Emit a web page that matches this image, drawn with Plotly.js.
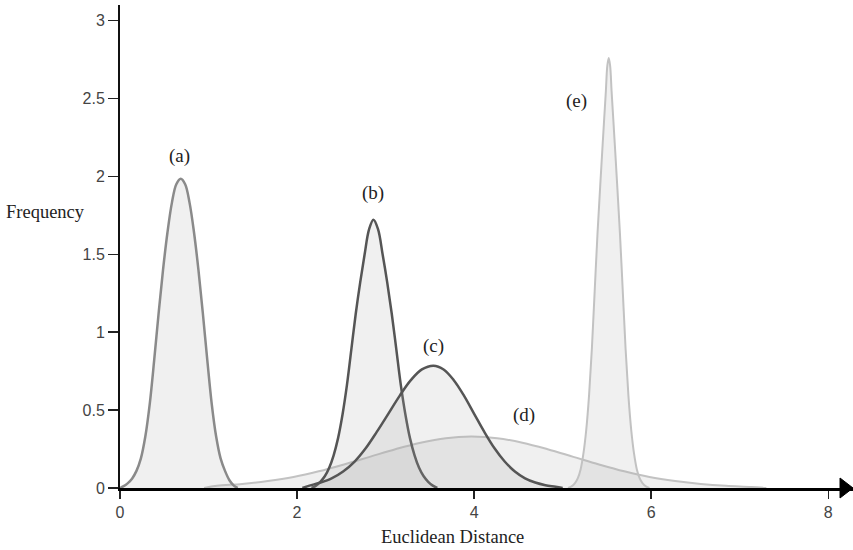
<!DOCTYPE html>
<html>
<head>
<meta charset="utf-8">
<script src="https://cdn.plot.ly/plotly-3.0.1.min.js"></script>
<style>html,body{margin:0;padding:0;background:#fff;}#chart{width:853px;height:550px;}</style>
</head>
<body>
<div id="chart"></div>
<script>
// Curve (a)
const xA = [0, 0.036, 0.086, 0.136, 0.186, 0.236, 0.286, 0.336, 0.386, 0.436, 0.486, 0.536, 0.586, 0.636, 0.686, 0.736, 0.786, 0.836, 0.886, 0.936, 0.986, 1.036, 1.086, 1.136, 1.186, 1.236, 1.286, 1.33];
const yA = [0, 0.01, 0.03, 0.06, 0.11, 0.19, 0.33, 0.54, 0.82, 1.12, 1.40, 1.64, 1.83, 1.95, 1.985, 1.95, 1.83, 1.64, 1.40, 1.12, 0.82, 0.54, 0.33, 0.19, 0.11, 0.05, 0.015, 0];
// Curve (b)
const xB = [2.163, 2.213, 2.263, 2.313, 2.363, 2.413, 2.463, 2.513, 2.563, 2.613, 2.663, 2.713, 2.763, 2.813, 2.863, 2.915, 2.966, 3.018, 3.069, 3.121, 3.172, 3.224, 3.275, 3.327, 3.378, 3.43, 3.481, 3.533, 3.584];
const yB = [0, 0.015, 0.04, 0.075, 0.13, 0.21, 0.32, 0.47, 0.66, 0.89, 1.12, 1.32, 1.50, 1.66, 1.722, 1.66, 1.50, 1.32, 1.12, 0.89, 0.66, 0.47, 0.32, 0.21, 0.13, 0.075, 0.04, 0.015, 0];
// Curve (c)
const xC = [2.06, 2.14, 2.265, 2.39, 2.52, 2.65, 2.775, 2.90, 3.03, 3.16, 3.285, 3.41, 3.54, 3.655, 3.77, 3.885, 4.00, 4.115, 4.23, 4.345, 4.46, 4.575, 4.69, 4.805, 4.92, 5.0];
const yC = [0, 0.015, 0.035, 0.062, 0.106, 0.17, 0.255, 0.36, 0.476, 0.593, 0.692, 0.761, 0.785, 0.761, 0.692, 0.593, 0.476, 0.36, 0.255, 0.17, 0.106, 0.062, 0.035, 0.018, 0.008, 0];
// Curve (d)
const xD = [0.95, 1.095, 1.38, 1.67, 1.96, 2.245, 2.53, 2.82, 3.11, 3.395, 3.68, 3.97, 4.26, 4.545, 4.83, 5.12, 5.41, 5.695, 5.98, 6.27, 6.56, 6.845, 7.13, 7.3];
const yD = [0, 0.014, 0.026, 0.045, 0.071, 0.107, 0.151, 0.20, 0.249, 0.291, 0.32, 0.33, 0.32, 0.291, 0.249, 0.20, 0.151, 0.107, 0.071, 0.045, 0.026, 0.014, 0.007, 0];
// Curve (e)
const xE = [5.06, 5.10, 5.139, 5.171, 5.203, 5.234, 5.266, 5.298, 5.33, 5.361, 5.393, 5.425, 5.456, 5.488, 5.504, 5.52, 5.536, 5.552, 5.584, 5.615, 5.647, 5.679, 5.71, 5.742, 5.774, 5.806, 5.837, 5.869, 5.901, 5.94, 5.98];
const yE = [0, 0.01, 0.031, 0.063, 0.121, 0.22, 0.373, 0.596, 0.897, 1.26, 1.63, 1.95, 2.25, 2.55, 2.71, 2.76, 2.71, 2.55, 2.25, 1.95, 1.63, 1.26, 0.897, 0.596, 0.373, 0.22, 0.121, 0.063, 0.031, 0.01, 0];

const curveLabels = ['(a)', '(b)', '(c)', '(d)', '(e)'];
const labelX = [0.667, 2.859, 3.537, 4.565, 5.153];
const labelY = [2.131, 1.891, 0.913, 0.468, 2.487];

const xTicks = [0, 2, 4, 6, 8];
const yTicks = [0, 0.5, 1, 1.5, 2, 2.5, 3];
const yTickText = ['0', '0.5', '1', '1.5', '2', '2.5', '3'];

const xTitle = 'Euclidean Distance';
const yTitle = 'Frequency';

const fillCol = 'rgba(170,170,170,0.18)';
function curve(x, y, color, width) {
  return {
    x: x, y: y, type: 'scatter', mode: 'lines',
    line: {color: color, width: width, shape: 'spline', smoothing: 1},
    fill: 'tozeroy', fillcolor: fillCol, hoverinfo: 'skip'
  };
}

const data = [
  curve(xD, yD, '#c2c2c2', 2),
  curve(xA, yA, '#8a8a8a', 2.5),
  curve(xB, yB, '#555555', 2.5),
  curve(xC, yC, '#555555', 2.5),
  curve(xE, yE, '#c2c2c2', 2)
];

const serif = 'Liberation Serif, Times New Roman, serif';
const annotations = curveLabels.map((t, i) => ({
  x: labelX[i], y: labelY[i], xref: 'x', yref: 'y', text: t, showarrow: false,
  font: {family: serif, size: 19, color: '#222'}, xanchor: 'center', yanchor: 'middle'
}));
annotations.push({
  x: 3.76, y: -0.1014, xref: 'x', yref: 'paper', text: xTitle, showarrow: false,
  font: {family: serif, size: 18.5, color: '#222'}, xanchor: 'center', yanchor: 'middle'
});
annotations.push({
  x: -0.101, y: 1.77, xref: 'paper', yref: 'y', text: yTitle, showarrow: false,
  font: {family: serif, size: 18.5, color: '#222'}, xanchor: 'center', yanchor: 'middle'
});

const layout = {
  width: 853, height: 550,
  margin: {l: 120, r: 0, t: 5, b: 62},
  paper_bgcolor: '#fff', plot_bgcolor: '#fff',
  showlegend: false,
  xaxis: {
    range: [0, 8.279], showgrid: false, zeroline: false,
    showline: true, linecolor: '#000', linewidth: 3,
    tickmode: 'array', tickvals: xTicks, ticktext: xTicks.map(String),
    ticks: 'outside', ticklen: 8, tickwidth: 1.5, tickcolor: '#222',
    tickfont: {family: 'Liberation Sans, Arial, sans-serif', size: 16, color: '#444'}
  },
  yaxis: {
    range: [0, 3.1], showgrid: false, zeroline: false,
    showline: true, linecolor: '#111', linewidth: 2,
    tickmode: 'array', tickvals: yTicks, ticktext: yTickText,
    ticks: 'outside', ticklen: 10, tickwidth: 1.5, tickcolor: '#222',
    tickfont: {family: 'Liberation Sans, Arial, sans-serif', size: 16, color: '#444'}
  },
  shapes: [{
    type: 'path', xref: 'paper', yref: 'paper',
    path: 'M 0.9823 0.0207 L 1 0 L 0.9823 -0.0207 Z',
    fillcolor: '#000', line: {color: '#000', width: 1}
  }],
  annotations: annotations
};

Plotly.newPlot('chart', data, layout, {displayModeBar: false, staticPlot: true});
</script>
</body>
</html>
